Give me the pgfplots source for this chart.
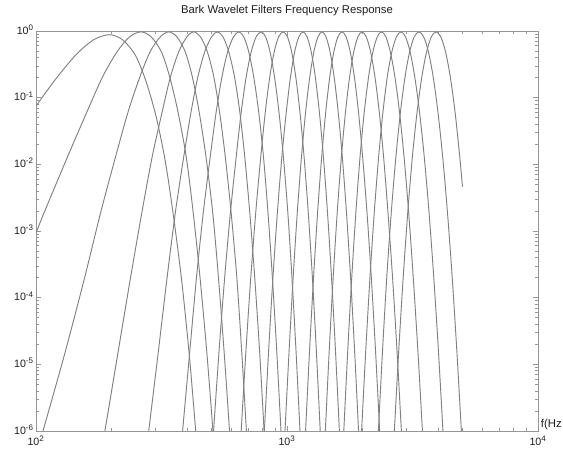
\documentclass[border=0pt]{standalone}
\usepackage{fontspec}
\setmainfont{Liberation Sans}
\usepackage{pgfplots}
\usepackage{pgfplotstable}
\pgfplotsset{compat=1.18}
\definecolor{curve}{RGB}{128,128,128}
\definecolor{frame}{RGB}{150,150,150}
\definecolor{txt}{RGB}{30,30,30}
\tikzset{filt/.style={draw=curve, line width=0.7pt, smooth, mark=none}}

% filters 3..15: frequency (Hz) of each filter at the same response values y
\pgfplotstableread{
y c3 c4 c5 c6 c7 c8 c9 c10 c11 c12 c13 c14 c15
1e-6 106.6 188.2 281.2 383.7 509.8 656.8 812.4 981.7 1185.5 1421.5 1683.6 1982.9 2312.4
1.4818e-5 130.4 212.0 306.7 409.3 535.4 685.2 843.8 1018.3 1228.2 1471.4 1743.9 2056.7 2399.2
1.9932e-4 156.2 238.0 332.8 435.8 564.4 717.2 878.9 1057.8 1275.5 1527.2 1811.2 2140.0 2496.4
0.0018957 181.0 264.1 359.1 464.0 595.0 750.7 915.5 1098.9 1323.9 1585.1 1881.1 2226.7 2602.5
0.012752 207.2 290.0 387.5 494.1 627.2 785.7 953.6 1141.6 1374.1 1646.3 1953.7 2316.9 2714.2
0.06064 232.6 318.0 414.5 522.0 657.0 819.3 993.3 1185.9 1426.2 1709.9 2030.8 2410.7 2830.5
0.2039 259.2 343.1 441.3 550.3 687.7 853.5 1032.4 1232.0 1480.2 1775.9 2113.0 2508.3 2951.9
0.485 284.6 370.2 469.9 580.1 719.8 889.0 1072.5 1279.3 1536.4 1844.4 2198.6 2615.7 3078.5
0.8158 312.5 399.2 500.3 611.5 753.4 926.0 1114.1 1327.8 1594.8 1915.6 2287.6 2727.8 3212.2
0.97 337.9 425.0 527.6 642.8 788.6 964.6 1157.4 1378.2 1656.3 1989.5 2380.2 2844.8 3355.4
0.8158 364.6 452.5 556.1 672.8 822.0 1004.4 1202.3 1430.4 1720.2 2069.8 2476.6 2966.8 3504.8
0.485 393.4 481.8 586.3 704.2 856.2 1043.4 1249.0 1484.6 1786.7 2153.6 2580.7 3094.0 3660.9
0.2039 419.7 511.1 618.0 737.1 891.9 1083.9 1296.6 1540.9 1855.6 2240.8 2691.4 3229.1 3823.9
0.06064 446.9 538.8 648.7 771.5 929.0 1126.0 1345.7 1599.6 1927.2 2331.6 2806.8 3373.0 3994.3
0.012752 475.8 568.0 679.0 806.1 967.7 1169.8 1396.8 1661.3 2001.9 2426.1 2927.2 3523.2 4172.1
0.0018957 505.8 598.8 710.7 839.7 1007.5 1215.2 1449.7 1725.5 2083.0 2525.0 3052.7 3680.1 4357.7
1.9932e-4 533.2 631.2 743.8 874.6 1046.6 1262.3 1504.7 1792.1 2167.4 2633.3 3184.4 3843.9 4551.7
1.4818e-5 562.0 660.6 778.5 911.0 1087.3 1310.2 1561.7 1861.2 2255.1 2746.2 3326.2 4015.2 4754.3
1e-6 590.3 689.2 810.3 946.2 1126.4 1356.2 1617.1 1927.8 2339.8 2855.3 3463.5 4180.8 4950.3
}\filters

\begin{document}
\begin{tikzpicture}
\begin{axis}[
  name=ax,
  at={(27pt,13.5pt)}, anchor=south west,
  scale only axis, width=376.5pt, height=300pt,
  xmode=log, ymode=log,
  xmin=100, xmax=10000, ymin=1e-6, ymax=1,
  xtick={100,1000,10000},
  xticklabels={10\textsuperscript{2},10\textsuperscript{3},10\textsuperscript{4}},
  ytick={1e-6,1e-5,1e-4,1e-3,1e-2,1e-1,1},
  yticklabels={10\textsuperscript{-6},10\textsuperscript{-5},10\textsuperscript{-4},10\textsuperscript{-3},10\textsuperscript{-2},10\textsuperscript{-1},10\textsuperscript{0}},
  minor xtick={200,300,400,500,600,700,800,900,2000,3000,4000,5000,6000,7000,8000,9000},
  minor ytick={2e-6,3e-6,4e-6,5e-6,6e-6,7e-6,8e-6,9e-6,
    2e-5,3e-5,4e-5,5e-5,6e-5,7e-5,8e-5,9e-5,
    2e-4,3e-4,4e-4,5e-4,6e-4,7e-4,8e-4,9e-4,
    2e-3,3e-3,4e-3,5e-3,6e-3,7e-3,8e-3,9e-3,
    0.02,0.03,0.04,0.05,0.06,0.07,0.08,0.09,
    0.2,0.3,0.4,0.5,0.6,0.7,0.8,0.9},
  tick align=inside, major tick length=3.5pt, minor tick length=2pt,
  axis line style={draw=frame, line width=0.6pt},
  tick style={draw=frame, line width=0.5pt},
  tick label style={font=\fontsize{8}{9}\selectfont, text=txt},
  xticklabel style={inner sep=1pt, yshift=-2.5pt},
  yticklabel style={inner sep=1.5pt, yshift=1pt},
  title={Bark Wavelet Filters Frequency Response},
  title style={font=\fontsize{8.5}{10}\selectfont, text=txt, at={(0.5,1)}, anchor=base, yshift=7pt, inner sep=0pt},
]
\addplot[filt] coordinates {(100,0.0748) (119.1,0.185) (144.3,0.44) (169.8,0.7401) (196.2,0.88) (221.0,0.7401) (248.2,0.44) (273.1,0.185) (299.9,0.05502) (326.8,0.011568) (352.6,0.0017198) (380.5,1.8082e-4) (408.3,1.3443e-5) (432.8,1e-6)};
\addplot[filt] coordinates {(100,9.33e-4) (107.8,0.0018957) (133.3,0.012752) (159.4,0.06064) (184.1,0.2039) (210.1,0.485) (235.9,0.8158) (262.1,0.97) (287.8,0.8158) (316.0,0.485) (341.0,0.2039) (368.0,0.06064) (397.0,0.012752) (422.9,0.0018957) (450.3,1.9932e-4) (479.4,1.4818e-5) (507.0,1e-6)};
\addplot[filt] table[x=c3,y=y]{\filters};
\addplot[filt] table[x=c4,y=y]{\filters};
\addplot[filt] table[x=c5,y=y]{\filters};
\addplot[filt] table[x=c6,y=y]{\filters};
\addplot[filt] table[x=c7,y=y]{\filters};
\addplot[filt] table[x=c8,y=y]{\filters};
\addplot[filt] table[x=c9,y=y]{\filters};
\addplot[filt] table[x=c10,y=y]{\filters};
\addplot[filt] table[x=c11,y=y]{\filters};
\addplot[filt] table[x=c12,y=y]{\filters};
\addplot[filt] table[x=c13,y=y]{\filters};
\addplot[filt] table[x=c14,y=y]{\filters};
\addplot[filt] table[x=c15,y=y]{\filters};
\addplot[filt] coordinates {(2676.9,1e-6) (2783.4,1.4818e-5) (2902.7,1.9932e-4) (3027.3,0.0018957) (3157.0,0.012752) (3297.4,0.06064) (3444.2,0.2039) (3597.7,0.485) (3757.9,0.8158) (3925.3,0.97) (4100.0,0.8158) (4282.4,0.485) (4473.1,0.2039) (4672.2,0.06064) (4880.1,0.012752) (5000,0.004611)};
\end{axis}
\node[anchor=base west, font=\fontsize{8.5}{10}\selectfont, text=txt, inner sep=0pt] at ([xshift=2pt, yshift=2.3pt]ax.south east) {f(Hz};
\pgfresetboundingbox
\useasboundingbox (0,0) rectangle (422.25pt,336.75pt);
\end{tikzpicture}
\end{document}
